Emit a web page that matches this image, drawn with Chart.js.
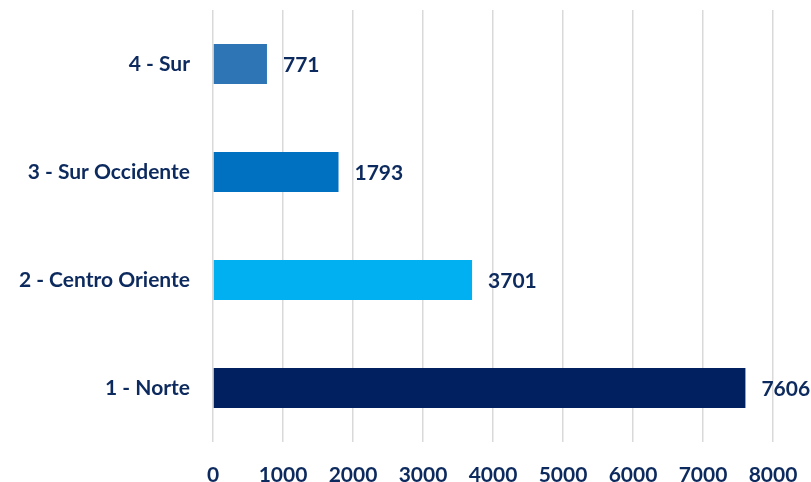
<!DOCTYPE html>
<html>
<head>
<meta charset="utf-8">
<script src="https://cdn.jsdelivr.net/npm/chart.js@4"></script>
<style>
  html, body { margin: 0; padding: 0; background: #ffffff; }
  #wrap { width: 811px; height: 482px; }
</style>
</head>
<body>
<div id="wrap"><canvas id="c" width="811" height="482"></canvas></div>
<script>
const categories = ["4 - Sur", "3 - Sur Occidente", "2 - Centro Oriente", "1 - Norte"];
const values = [771, 1793, 3701, 7606];
const barColors = ["#2E75B6", "#0070C0", "#00B0F0", "#002060"];
const xTicks = [0, 1000, 2000, 3000, 4000, 5000, 6000, 7000, 8000];

const textColor = "#0D2A5E";
const fontFamily = "Lato, 'Open Sans', 'DejaVu Sans', sans-serif";

const valueLabels = {
  id: "valueLabels",
  afterDatasetsDraw(chart) {
    const ctx = chart.ctx;
    const meta = chart.getDatasetMeta(0);
    ctx.save();
    ctx.font = "bold 21px " + fontFamily;
    ctx.fillStyle = textColor;
    ctx.textAlign = "left";
    ctx.textBaseline = "middle";
    meta.data.forEach((bar, i) => {
      ctx.fillText(String(values[i]), bar.x + 16, bar.y + 1);
    });
    ctx.restore();
  }
};

new Chart(document.getElementById("c"), {
  type: "bar",
  data: {
    labels: categories,
    datasets: [{
      data: values,
      backgroundColor: barColors,
      borderWidth: 0,
      categoryPercentage: 1,
      barPercentage: 0.37
    }]
  },
  options: {
    indexAxis: "y",
    responsive: false,
    animation: false,
    devicePixelRatio: 1,
    layout: { padding: { top: 10, right: 38, bottom: 0, left: 0 } },
    plugins: {
      legend: { display: false },
      tooltip: { enabled: false },
      title: { display: false }
    },
    scales: {
      x: {
        min: 0,
        max: 8000,
        afterBuildTicks(scale) { scale.ticks = xTicks.map(v => ({ value: v })); },
        afterFit(scale) { scale.height = 40; scale.paddingLeft = 0; scale.paddingRight = 0; },
        grid: { color: "#D9D9D9", lineWidth: 1.5, drawTicks: false },
        border: { display: false },
        ticks: {
          padding: 21,
          color: textColor,
          callback: (v) => String(v),
          font: { family: fontFamily, size: 21, weight: "bold" }
        }
      },
      y: {
        afterFit(scale) { scale.width = 213; scale.paddingTop = 0; scale.paddingBottom = 0; },
        grid: { display: false, drawTicks: false },
        border: { display: false },
        ticks: {
          padding: 23,
          color: textColor,
          font: { family: fontFamily, size: 21, weight: "bold" }
        }
      }
    }
  },
  plugins: [valueLabels]
});
</script>
</body>
</html>
